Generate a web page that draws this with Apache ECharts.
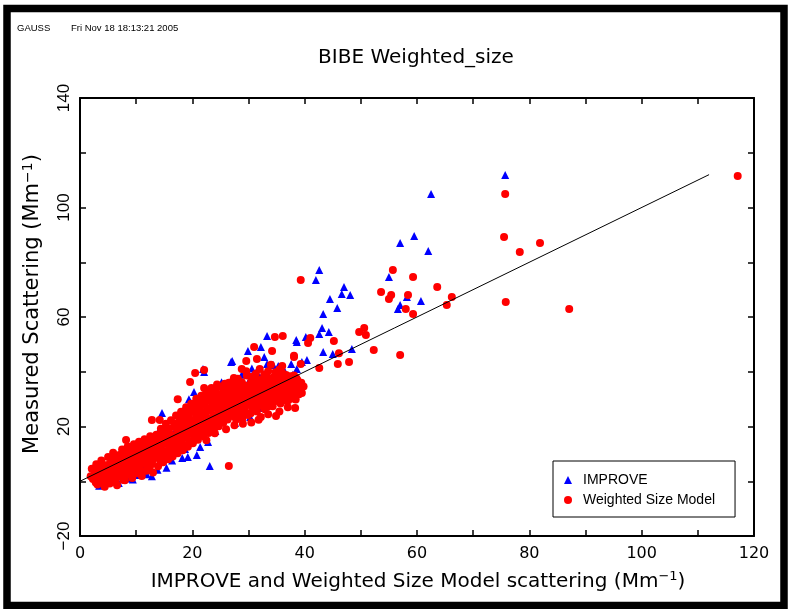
<!DOCTYPE html>
<html>
<head>
<meta charset="utf-8">
<script src="https://cdn.jsdelivr.net/npm/echarts@6/dist/echarts.min.js"></script>
<style>
html,body{margin:0;padding:0;background:#fff;}
#chart{width:790px;height:609px;}
</style>
</head>
<body>
<div id="chart"></div>
<script>
// ---------- data ----------
var xTicks = [0, 20, 40, 60, 80, 100, 120];
var yTicks = [-20, 20, 60, 100, 140];

// IMPROVE (blue triangles): dense band
var improveCore = [
[2.8,1.2],[3.4,-1.6],[4.1,-0.3],[4.5,2.8],[5.3,-0.3],[5.6,4.0],[6.3,1.1],[6.9,-0.6],[7.4,3.2],[7.9,6.0],
[8.4,1.0],[8.9,4.4],[9.4,0.6],[9.9,7.3],[10.4,2.3],[10.9,5.6],[11.4,8.7],[11.9,2.6],[12.3,6.4],[12.8,1.8],
[13.3,9.5],[13.8,4.2],[14.1,18.7],[14.3,7.8],[14.6,24.9],[14.9,11.4],[15.4,4.9],[15.9,13.9],[16.4,7.6],[16.8,17.8],
[17.3,10.8],[17.8,20.6],[18.2,8.5],[18.7,11.8],[19.2,8.9],[19.4,30.0],[19.7,23.3],[20.3,32.6],[20.8,26.8],[21.2,29.7],
[21.4,12.5],[21.9,20.4],[22.1,39.9],[22.8,14.3],[23.0,26.0],[23.1,5.6],[23.6,31.4],[24.1,18.4],[24.7,28.6],[25.2,36.2],
[25.6,34.4],[25.8,23.5],[26.4,30.8],[26.9,43.6],[27.4,28.6],[27.6,21.3],[28.3,32.2],[28.8,38.9],[29.4,26.5],[29.9,35.9],
[30.3,33.3],[30.6,41.2],[31.0,37.7],[31.2,39.5],[31.6,30.2],[32.0,38.1],[32.4,26.8],[32.6,39.2],[33.0,34.0],[33.3,35.9],
[33.8,29.0],[34.4,42.5],[34.6,36.8],[35.3,38.8],[35.8,33.5],[36.4,40.4],[37.0,30.8],[37.4,35.2],[37.9,38.9],[38.6,41.0],[39.0,36.4],
[17.8,15.1],[20.8,9.6],[8.9,1.5],[30.3,23.5],[29.0,26.7]
];
// IMPROVE: scattered points
var improveSparse = [
[75.7,111.9],[62.5,104.9],[57.0,87.0],[59.5,89.6],[62.0,84.1],[55.0,74.6],[58.2,67.3],[60.7,65.8],[57.0,64.4],[56.6,62.9],
[42.6,77.2],[42.0,73.5],[47.0,71.0],[46.6,68.4],[48.1,68.0],[44.5,66.6],[45.8,63.3],[43.3,61.1],[43.1,56.0],[42.6,53.8],
[44.3,54.5],[38.5,51.6],[40.2,52.7],[43.3,47.2],[45.0,46.5],[48.4,48.3],[39.5,43.6],[37.6,42.8],[33.3,53.1],[32.2,49.0],
[27.1,43.9],[32.8,45.4],[33.3,42.8],[35.3,42.1],[29.9,47.6],[21.9,41.0],[38.6,50.9],[40.4,44.3]
];

// Weighted Size Model (red circles): dense band, first pass
var modelCore = [
[2.3,0.8],[2.6,3.9],[2.9,6.2],[3.1,-1.2],[3.3,2.4],[3.6,5.1],[3.8,7.6],[4.0,0.3],[4.2,3.0],[4.4,-2.0],
[4.6,5.8],[4.8,1.6],[5.0,8.9],[5.1,4.2],[5.3,-0.8],[5.5,6.7],[5.7,2.6],[5.9,10.4],[6.1,0.9],[6.2,4.9],
[6.4,7.8],[6.6,-1.5],[6.8,3.3],[7.0,9.6],[7.1,5.9],[7.3,1.7],[7.5,11.6],[7.6,7.2],[7.8,3.9],[8.0,0.4],
[8.1,9.0],[8.3,5.4],[8.5,12.7],[8.6,2.5],[8.8,7.1],[9.0,10.3],[9.1,4.3],[9.3,1.2],[9.5,8.2],[9.6,13.5],
[9.8,5.8],[10.0,2.9],[10.1,11.0],[10.3,7.5],[10.5,14.4],[10.6,4.6],[10.8,9.4],[11.0,1.9],[11.2,12.3],[11.3,6.8],
[11.5,15.3],[11.7,3.8],[11.8,10.1],[12.0,8.0],[12.2,13.4],[12.4,5.2],[12.5,16.4],[12.7,10.9],[12.9,7.6],[13.0,3.2],
[13.2,14.2],[13.4,11.7],[13.6,17.0],[13.7,8.6],[13.9,5.5],[14.1,15.6],[14.2,12.4],[14.4,19.2],[14.6,9.7],[14.8,6.9],
[15.0,17.1],[15.1,13.6],[15.3,21.0],[15.5,10.5],[15.7,8.0],[15.8,18.5],[16.0,15.0],[16.2,22.3],[16.3,11.7],[16.5,9.0],
[16.7,19.9],[16.9,16.4],[17.1,24.0],[17.2,13.1],[17.4,10.2],[17.6,21.2],[17.8,17.7],[18.0,25.4],[18.1,14.5],[18.3,11.3],
[18.5,22.6],[18.7,19.1],[18.9,27.0],[19.0,15.8],[19.2,12.6],[19.4,24.1],[19.6,20.6],[19.8,28.3],[20.0,17.2],[20.1,13.9],
[20.3,25.5],[20.5,21.8],[20.7,30.1],[20.9,18.5],[21.0,15.2],[21.2,26.7],[21.4,23.1],[21.6,31.2],[21.8,19.8],[22.0,16.4],
[22.1,28.0],[22.3,24.4],[22.5,33.0],[22.7,21.0],[22.9,17.6],[23.1,29.3],[23.2,25.8],[23.4,34.1],[23.6,22.3],[23.8,18.9],
[24.0,30.5],[24.2,27.0],[24.4,35.3],[24.5,23.6],[24.7,20.1],[24.9,31.8],[25.1,28.4],[25.3,24.9],[25.5,21.4],[25.7,33.2],
[25.9,29.6],[26.1,26.0],[26.3,22.6],[26.5,36.0],[26.7,30.9],[26.9,27.3],[27.1,23.8],[27.3,34.5],[27.5,32.2],[27.7,28.6],
[27.9,25.0],[28.1,37.4],[28.3,33.4],[28.5,29.9],[28.7,26.3],[28.9,22.9],[29.1,35.2],[29.3,31.2],[29.5,27.5],[29.7,38.6],
[29.9,24.2],[30.1,33.8],[30.3,30.0],[30.5,36.5],[30.7,26.9],[30.9,32.4],[31.1,28.8],[31.3,39.3],[31.5,25.5],[31.7,35.0],
[31.9,31.4],[32.1,27.6],[32.3,37.2],[32.5,33.9],[32.7,29.9],[32.9,26.3],[33.1,36.0],[33.3,32.3],[33.5,40.2],[33.7,28.8],
[33.9,34.6],[34.1,30.9],[34.3,27.4],[34.5,38.0],[34.7,33.1],[34.9,29.6],[35.1,36.1],[35.3,31.8],[35.5,40.8],[35.7,28.4],
[35.9,34.3],[36.1,30.5],[36.3,37.5],[36.5,32.9],[36.8,29.3],[37.0,35.6],[37.2,31.2],[37.5,38.4],[37.7,33.8],[38.0,30.2],
[38.2,36.2],[38.5,32.6],[38.9,35.0],[39.2,33.4]
];
// Weighted Size Model: dense band, points between the first pass
var modelFill = [
[1.9,1.8],[2.1,4.6],[2.5,2.0],[2.8,-0.5],[3.2,4.5],[3.5,0.9],[3.9,6.0],[4.3,1.5],[4.7,3.9],
[5.0,0.6],[5.2,6.1],[5.4,2.2],[5.8,7.9],[6.0,3.5],[6.3,-0.1],[6.5,5.6],[6.7,9.2],
[6.9,1.9],[7.2,4.3],[7.4,8.4],[7.7,0.5],[7.9,5.7],[8.2,10.6],[8.4,3.1],
[8.7,8.6],[8.9,5.2],[9.2,11.8],[9.4,2.7],[9.7,9.7],[9.9,4.4],[10.2,12.9],
[10.4,5.9],[10.7,10.6],[10.9,3.5],[11.1,8.2],[11.4,13.9],[11.6,6.3],[11.9,11.6],[12.1,4.0],
[12.3,9.5],[12.6,14.7],[12.8,6.3],[13.1,11.4],[13.3,8.9],[13.5,15.8],[13.8,12.9],[14.0,10.2],
[14.3,7.6],[14.5,14.0],[14.7,17.8],[14.9,11.0],[15.2,8.6],[15.4,15.9],[15.6,19.4],[15.9,12.2],[16.1,17.2],
[16.4,14.0],[16.6,10.5],[16.8,21.1],[17.0,15.2],[17.3,18.8],[17.5,12.1],[17.7,23.0],[17.9,15.9],[18.2,19.9],
[18.4,13.2],[18.6,24.8],[18.8,16.8],[19.1,21.4],[19.3,18.3],[19.5,14.6],[19.7,26.0],[19.9,22.4],[20.2,19.0],
[20.4,15.6],[20.6,27.8],[20.8,23.9],[21.1,20.3],[21.3,17.1],[21.5,29.2],[21.7,25.1],[21.9,21.6],[22.2,18.2],
[22.4,30.6],[22.6,26.4],[22.8,22.8],[23.0,19.6],[23.3,31.7],[23.5,27.8],[23.7,24.2],[23.9,20.7],[24.1,33.0],
[24.3,29.0],[24.6,25.4],[24.8,22.0],[25.0,34.4],[25.2,30.4],[25.4,26.8],[25.6,23.1],[25.8,35.6],[26.0,31.6],
[26.2,28.1],[26.4,24.5],[26.6,33.5],[26.8,29.3],[27.0,25.6],[27.2,36.4],[27.4,30.4],[27.6,26.7],[27.8,22.6],[28.0,35.2],
[28.2,31.4],[28.4,27.8],[28.6,24.6],[28.8,36.2],[29.0,33.2],[29.2,29.2],[29.4,25.6],[29.6,40.2],[29.8,34.9],[30.0,31.7],
[30.2,28.2],[30.4,24.8],[30.6,38.2],[30.8,34.4],[31.0,30.6],[31.2,26.6],[31.4,36.9],[31.6,33.1],[31.8,29.3],[32.0,41.0],
[32.2,35.3],[32.4,31.6],[32.6,28.0],[32.8,39.0],[33.0,34.5],[33.2,30.6],[33.4,27.2],[33.6,37.6],[33.8,32.8],[34.0,42.6],
[34.2,36.2],[34.4,32.3],[34.6,29.1],[34.8,39.8],[35.0,34.4],[35.2,30.5],[35.4,37.8],[35.6,33.6],[35.8,31.0],[36.0,39.6],
[36.2,35.5],[36.4,31.4],[36.7,38.8],[36.9,34.0],[37.1,29.6],[37.3,36.8],[37.6,32.6],[37.8,35.0],[38.1,38.6],[38.4,29.9],
[38.7,37.0],[39.0,31.8],[39.4,36.0],[39.8,34.6],
[22.5,15.0],[24.0,17.5],[26.0,19.0],[27.5,20.5],[29.0,21.0],[30.5,21.5],[31.8,22.5],[33.5,24.5],[35.5,25.5],[37.0,27.0]
];
// Weighted Size Model: scattered points
var modelSparse = [
[117.1,111.5],[75.7,104.9],[75.5,89.2],[81.9,87.0],[78.3,83.7],[55.7,77.2],[59.3,74.6],[63.6,71.0],[53.6,69.1],[55.4,68.0],
[55.0,66.6],[58.4,68.0],[66.2,67.3],[65.3,64.4],[58.0,62.9],[59.3,61.1],[75.8,65.5],[87.1,62.9],[52.3,47.9],[57.0,46.1],
[39.3,73.5],[41.0,52.3],[40.6,50.5],[36.1,53.1],[45.2,51.2],[49.7,54.5],[50.6,56.0],[50.9,53.4],[46.1,46.8],[38.1,45.8],
[39.3,42.8],[45.9,42.8],[47.9,43.6],[42.6,41.4],[34.7,52.7],[31.0,49.0],[34.2,47.6],[29.6,43.9],[31.5,44.7],[38.1,45.4],
[22.1,40.6],[28.8,41.0],[36.0,42.1],[27.4,37.7],[35.2,38.8],[38.5,37.7],[22.1,34.1],[38.5,34.8],[39.5,32.2],[38.3,26.8],
[34.9,23.8],[32.2,23.5],[20.5,39.5],[19.6,36.3],[17.4,30.0],[12.8,22.4],[14.2,22.4],[8.2,15.1],[26.5,5.6],[3.9,-0.3]
];

// 1:1 reference line
var lineX = [0, 112];
var lineY = [0, 112];

// ---------- chart ----------
var improveData = improveCore.concat(improveSparse);
var modelData = modelCore.concat(modelFill, modelSparse);
var lineData = lineX.map(function (x, i) { return [x, lineY[i]]; });

var sansH = "'Liberation Sans', Arial, sans-serif";
var sansD = "'DejaVu Sans', sans-serif";

function fmtNum(v) { return v < 0 ? '\u2212' + (-v) : String(v); }

var chart = echarts.init(document.getElementById('chart'), null, {renderer: 'canvas'});
var tickStyle = {color: '#000', width: 1.5};
var axisLineStyle = {color: '#000', width: 2};

chart.setOption({
  animation: false,
  backgroundColor: '#fff',
  grid: {left: 80, right: 36, top: 98, bottom: 73, containLabel: false},
  xAxis: [{
    type: 'value', min: 0, max: 120, interval: 10, position: 'bottom',
    axisLine: {lineStyle: axisLineStyle, onZero: false},
    axisTick: {inside: true, length: 6, lineStyle: tickStyle},
    axisLabel: {
      margin: 10, color: '#000', fontSize: 16, fontFamily: sansD,
      formatter: function (v) { return xTicks.indexOf(v) >= 0 ? fmtNum(v) : ''; }
    },
    splitLine: {show: false}
  }, {
    type: 'value', min: 0, max: 120, interval: 10, position: 'top',
    axisLine: {lineStyle: axisLineStyle, onZero: false},
    axisTick: {inside: true, length: 6, lineStyle: tickStyle},
    axisLabel: {show: false}, splitLine: {show: false}
  }],
  yAxis: [{
    type: 'value', min: -20, max: 140, interval: 20, position: 'left',
    axisLine: {lineStyle: axisLineStyle, onZero: false},
    axisTick: {inside: true, length: 6, lineStyle: tickStyle},
    axisLabel: {
      rotate: 90, margin: 7, color: '#000', fontSize: 17, fontFamily: sansH,
      formatter: function (v) { return yTicks.indexOf(v) >= 0 ? fmtNum(v) : ''; }
    },
    splitLine: {show: false}
  }, {
    type: 'value', min: -20, max: 140, interval: 20, position: 'right',
    axisLine: {lineStyle: axisLineStyle, onZero: false},
    axisTick: {inside: true, length: 6, lineStyle: tickStyle},
    axisLabel: {show: false}, splitLine: {show: false}
  }],
  legend: {
    orient: 'vertical', left: 553, top: 461,
    data: [{name: 'IMPROVE', icon: 'triangle'}, {name: 'Weighted Size Model', icon: 'circle'}],
    itemWidth: 8, itemHeight: 8, itemGap: 6,
    padding: [12, 20, 10, 11],
    borderColor: '#000', borderWidth: 1, backgroundColor: '#fff',
    textStyle: {color: '#000', fontSize: 14, fontFamily: sansH, padding: [0, 0, 0, 6]},
    selectedMode: false
  },
  series: [{
    name: 'IMPROVE', type: 'scatter', symbol: 'triangle', symbolSize: 8,
    itemStyle: {color: '#0000ff', opacity: 1}, data: improveData
  }, {
    name: 'Weighted Size Model', type: 'scatter', symbol: 'circle', symbolSize: 8,
    itemStyle: {color: '#ff0000', opacity: 1}, data: modelData
  }, {
    name: 'fit', type: 'line', data: lineData, symbol: 'none', silent: true,
    lineStyle: {color: '#000', width: 1}, z: 5
  }],
  graphic: [
    {type: 'rect', shape: {x: 7, y: 8.5, width: 777, height: 597}, style: {fill: null, stroke: '#000', lineWidth: 7.5}, silent: true},
    {type: 'text', x: 17, y: 28, style: {text: 'GAUSS', font: '9.5px ' + sansH, fill: '#000', textVerticalAlign: 'middle'}},
    {type: 'text', x: 71, y: 28, style: {text: 'Fri Nov 18 18:13:21 2005', font: '9.5px ' + sansH, fill: '#000', textVerticalAlign: 'middle'}},
    {type: 'text', x: 416, y: 58, style: {text: 'BIBE Weighted_size', font: '20px ' + sansD, fill: '#000', textAlign: 'center', textVerticalAlign: 'middle'}},
    {type: 'text', x: 418, y: 582, style: {
      text: 'IMPROVE and Weighted Size Model scattering (Mm{sup|\u22121})',
      font: '20px ' + sansD, fill: '#000', textAlign: 'center', textVerticalAlign: 'middle',
      rich: {sup: {fontSize: 13, fontFamily: sansD, padding: [0, 0, 10, 0]}}
    }},
    {type: 'text', x: 33, y: 304, rotation: Math.PI / 2, style: {
      text: 'Measured Scattering (Mm{sup|\u22121})',
      font: '21px ' + sansD, fill: '#000', textAlign: 'center', textVerticalAlign: 'middle',
      rich: {sup: {fontSize: 14, fontFamily: sansD, padding: [0, 0, 10, 0]}}
    }}
  ]
});
</script>
</body>
</html>
